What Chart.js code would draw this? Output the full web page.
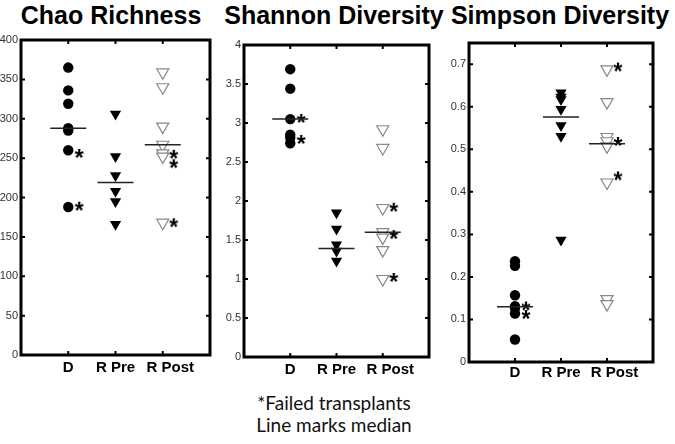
<!DOCTYPE html>
<html>
<head>
<meta charset="utf-8">
<script src="https://cdn.jsdelivr.net/npm/chart.js@4.4.0/dist/chart.umd.min.js"></script>
<style>
  body { margin: 0; background: #fff; width: 675px; height: 444px; position: relative; overflow: hidden; }
  canvas { position: absolute; }
  .title { position: absolute; top: 1px; line-height: 30px; font: bold 25px "Liberation Sans", Arial, sans-serif; white-space: nowrap; transform: translateX(-50%); color: #000; }
  .note { position: absolute; left: 334px; transform: translateX(-50%); font: 19px Lato, sans-serif; line-height: 22px; white-space: nowrap; color: #111; text-align: center; }
</style>
</head>
<body>
<div class="title" style="left:111px">Chao Richness</div>
<div class="title" style="left:334px">Shannon Diversity</div>
<div class="title" style="left:560px">Simpson Diversity</div>

<canvas id="chao" width="215" height="360" style="left:0;top:30px"></canvas>
<canvas id="shannon" width="212" height="360" style="left:222px;top:30px"></canvas>
<canvas id="simpson" width="211" height="360" style="left:447px;top:30px"></canvas>

<div class="note" style="top:392px">*Failed transplants<br>Line marks median</div>

<script>
const categories = ['D', 'R Pre', 'R Post'];

// Chao Richness
const chaoD = [365, 336, 319, 288, 285, 260, 188];
const chaoPre = [306, 252, 228, 208, 195, 166];
const chaoPost = [359, 340, 290, 267, 256, 252, 168];
const chaoMedian = [288, 219, 267];
const chaoStarD = [254, 187];
const chaoStarPost = [253, 241, 166];

// Shannon Diversity
const shannonD = [3.69, 3.44, 3.05, 2.85, 2.81, 2.74];
const shannonPre = [1.85, 1.64, 1.44, 1.36, 1.23];
const shannonPost = [2.92, 2.68, 1.91, 1.6, 1.53, 1.37, 1.0];
const shannonMedian = [3.05, 1.39, 1.6];
const shannonStarD = [3.04, 2.77];
const shannonStarPost = [1.9, 1.55, 1.0];

// Simpson Diversity
const simpsonD = [0.237, 0.226, 0.157, 0.131, 0.127, 0.114, 0.053];
const simpsonPre = [0.633, 0.623, 0.617, 0.594, 0.556, 0.531, 0.287];
const simpsonPost = [0.688, 0.611, 0.529, 0.519, 0.507, 0.422, 0.148, 0.136];
const simpsonMedian = [0.13, 0.576, 0.513];
const simpsonStarD = [0.128, 0.108];
const simpsonStarPost = [0.69, 0.515, 0.434];

// asterisk marker, drawn a bit to the right of the sample it flags
const star = document.createElement('canvas');
star.width = 40; star.height = 24;
(function () {
  const c = star.getContext('2d');
  c.fillStyle = '#000';
  c.font = 'bold 23px "Liberation Sans", Arial, sans-serif';
  c.textAlign = 'center';
  c.textBaseline = 'middle';
  c.fillText('*', 20 + 11, 12 + 5);
})();

const framePlugin = {
  id: 'frame',
  afterDraw(chart) {
    const { ctx, chartArea: a, scales: { x, y } } = chart;
    ctx.save();
    ctx.strokeStyle = '#000';
    ctx.lineWidth = 2;
    ctx.beginPath();
    y.ticks.forEach(t => {
      const py = y.getPixelForValue(t.value);
      ctx.moveTo(a.left, py); ctx.lineTo(a.left + 4, py);
      ctx.moveTo(a.right - 4, py); ctx.lineTo(a.right, py);
    });
    categories.forEach((c, i) => {
      const px = x.getPixelForValue(i + 1);
      ctx.moveTo(px, a.top); ctx.lineTo(px, a.top + 4);
      ctx.moveTo(px, a.bottom - 4); ctx.lineTo(px, a.bottom);
    });
    ctx.stroke();
    ctx.lineWidth = 3;
    ctx.strokeRect(a.left, a.top, a.right - a.left, a.bottom - a.top);
    ctx.restore();
  }
};

function pts(cat, vals) {
  return vals.map(v => ({ x: cat, y: v }));
}

function panel(id, p) {
  new Chart(document.getElementById(id), {
    type: 'scatter',
    data: {
      datasets: [
        {
          data: p.median.map((v, i) => ({ x: i + 1, y: v })),
          pointStyle: 'line', pointRadius: 18, pointBorderColor: '#222', pointBorderWidth: 1.5
        },
        {
          data: pts(1, p.starD).concat(pts(3, p.starPost)),
          pointStyle: star, pointRadius: 10
        },
        {
          data: pts(1, p.d),
          pointStyle: 'circle', pointRadius: 5.2, pointBackgroundColor: '#000', pointBorderWidth: 0
        },
        {
          data: pts(2, p.pre),
          pointStyle: 'triangle', pointRotation: 180, pointRadius: 6.5,
          pointBackgroundColor: '#000', pointBorderColor: '#000', pointBorderWidth: 0
        },
        {
          data: pts(3, p.post),
          pointStyle: 'triangle', pointRotation: 180, pointRadius: 7,
          pointBackgroundColor: '#fff', pointBorderColor: '#888', pointBorderWidth: 1.2
        }
      ]
    },
    options: {
      responsive: false,
      animation: false,
      events: [],
      layout: { autoPadding: false, padding: { top: p.padTop, right: 5, left: 0, bottom: 0 } },
      plugins: { legend: { display: false }, tooltip: { enabled: false } },
      scales: {
        x: {
          type: 'linear', min: 0, max: 4,
          grid: { display: false, drawTicks: false },
          border: { display: false },
          afterFit: s => { s.height = p.xh; s.paddingLeft = 0; s.paddingRight = 0; },
          ticks: {
            stepSize: 1, maxRotation: 0, autoSkip: false, padding: p.xPad,
            color: '#000', font: { family: '"Liberation Sans", Arial, sans-serif', size: 15, weight: 'bold' },
            // the last label sits a little right of its tick in the original
            callback: v => v === 3 ? '\u2002\u2002' + categories[2] : (categories[v - 1] || '')
          }
        },
        y: {
          min: 0, max: p.max,
          grid: { display: false, drawTicks: false },
          border: { display: false },
          afterFit: s => { s.width = p.yw; s.paddingTop = 0; s.paddingBottom = 0; },
          ticks: {
            stepSize: p.step, padding: 3,
            color: '#333', font: { family: '"Liberation Sans", Arial, sans-serif', size: 11 },
            callback: v => v > p.lastTick + 1e-9 ? '' : String(+v.toFixed(2))
          }
        }
      }
    },
    plugins: [framePlugin]
  });
}

panel('chao', {
  d: chaoD, pre: chaoPre, post: chaoPost, median: chaoMedian, starD: chaoStarD, starPost: chaoStarPost,
  max: 400, step: 50, lastTick: 400, yw: 21, xh: 35, padTop: 10, xPad: 4
});
panel('shannon', {
  d: shannonD, pre: shannonPre, post: shannonPost, median: shannonMedian, starD: shannonStarD, starPost: shannonStarPost,
  max: 4, step: 0.5, lastTick: 4, yw: 22, xh: 33, padTop: 15, xPad: 4
});
panel('simpson', {
  d: simpsonD, pre: simpsonPre, post: simpsonPost, median: simpsonMedian, starD: simpsonStarD, starPost: simpsonStarPost,
  max: 0.75, step: 0.1, lastTick: 0.7, yw: 22, xh: 28, padTop: 13, xPad: 2
});
</script>
</body>
</html>
